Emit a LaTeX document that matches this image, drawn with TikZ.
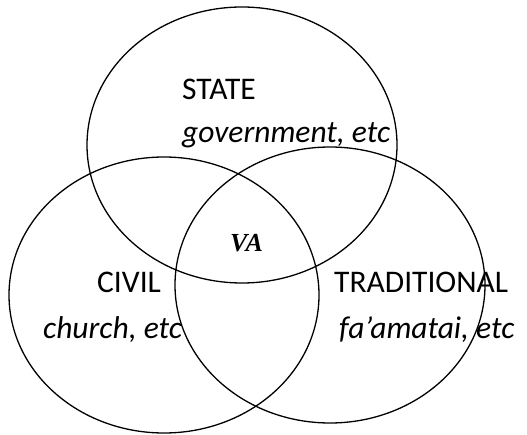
\documentclass[tikz,border=0pt]{standalone}
\usepackage{fontspec}
\setmainfont{Carlito}
\newfontfamily\vafont{Liberation Serif}
\usepackage{tikz}
\usetikzlibrary{positioning}

\begin{document}
\begin{tikzpicture}[x=1pt, y=-1pt,
				ring/.style={draw, line width=1.3pt},
				word/.style={anchor=base west, inner sep=0pt, font=\fontsize{31.5}{33}\selectfont},
				note/.style={word, font=\fontsize{31.5}{33}\selectfont\itshape}]
				%Rahmen
				\useasboundingbox (0,0) rectangle (527,435);
				%Kreise zeichnen
				\foreach \cx/\cy in {242/145, 164/295, 330/285}
					\draw[ring] (\cx,\cy) ellipse [x radius=155pt, y radius=138pt];
				%Beschriftung
				\node[word] (state) at (182,100) {STATE};
				\node[note] (gov) at (182,143) {government, etc};
				\node[word] (civil) at (97,293) {CIVIL};
				\node[note] (church) at (43,338) {church, etc};
				\node[word] (trad) at (334,293) {TRADITIONAL};
				\node[note] (faa) at (339,338) {fa’amatai, etc};
				\node[word, font=\vafont\fontsize{26}{28}\selectfont\bfseries\itshape] (va) at (230,252) {VA};
\end{tikzpicture}
\end{document}
